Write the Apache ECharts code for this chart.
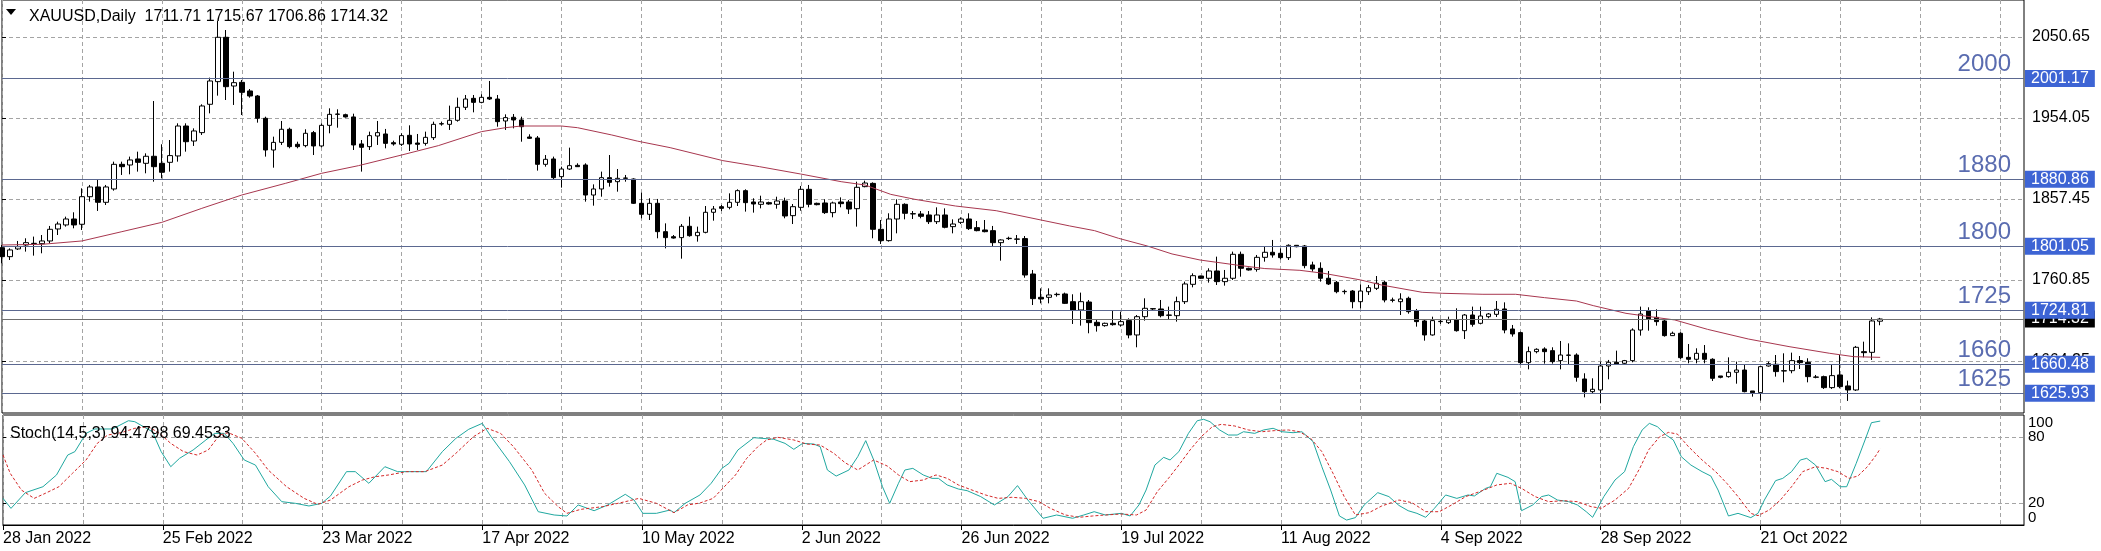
<!DOCTYPE html>
<html><head><meta charset="utf-8">
<script src="https://cdn.jsdelivr.net/npm/echarts@6/dist/echarts.min.js"></script>
<style>html,body{margin:0;padding:0;background:#fff}#c{width:2101px;height:551px}</style>
</head><body><div id="c"></div>
<script>
const symbol = 'XAUUSD', timeframe = 'Daily';
const dateLabels = ['28 Jan 2022','25 Feb 2022','23 Mar 2022','17 Apr 2022','10 May 2022','2 Jun 2022','26 Jun 2022','19 Jul 2022','11 Aug 2022','4 Sep 2022','28 Sep 2022','21 Oct 2022'];
const labelEvery = 20, gridEvery = 10, slotCount = 254;

const opens = [1799.4,1788.7,1797.9,1802.6,1804.2,1804.2,1807.4,1821.7,1826.5,1833.6,
1827.3,1860.2,1871.8,1853.5,1869.4,1898.8,1898.0,1905.2,1900.0,1908.4,
1900.0,1901.2,1908.8,1944.5,1926.6,1936.6,1970.4,1997.4,2050.3,1992.2,
1996.6,1986.3,1980.3,1953.7,1915.9,1925.0,1940.6,1922.7,1921.1,1936.6,
1920.7,1945.3,1958.4,1958.0,1955.3,1923.1,1919.9,1932.6,1935.0,1924.6,
1922.7,1933.4,1924.2,1923.8,1930.6,1946.9,1946.5,1951.3,1966.8,1977.5,
1972.7,1978.7,1976.7,1950.5,1954.9,1951.7,1931.4,1930.2,1898.8,1905.2,
1884.1,1893.2,1897.6,1898.0,1862.2,1869.4,1882.9,1878.1,1882.1,1881.3,
1852.3,1839.2,1852.3,1818.5,1812.5,1811.4,1824.9,1813.7,1817.7,1841.6,
1848.3,1847.5,1853.5,1867.4,1853.9,1851.1,1853.1,1851.1,1855.1,1837.6,
1847.5,1869.0,1852.3,1852.7,1841.2,1853.9,1853.9,1845.9,1872.2,1876.1,
1821.3,1807.8,1833.6,1851.1,1839.6,1839.6,1838.4,1830.4,1838.4,1824.5,
1829.6,1833.6,1823.3,1820.5,1819.7,1805.4,1810.2,1809.4,1810.2,1768.0,
1740.2,1740.2,1743.4,1744.2,1735.0,1725.1,1734.6,1710.4,1706.4,1709.2,
1707.2,1712.4,1695.3,1717.1,1726.3,1726.3,1718.7,1718.3,1735.0,1755.7,
1765.6,1762.9,1771.6,1758.9,1762.9,1791.5,1774.8,1773.6,1787.9,1793.9,
1792.7,1787.5,1802.2,1801.4,1778.8,1774.8,1762.9,1758.1,1746.9,1747.7,
1735.0,1746.9,1750.9,1758.1,1736.6,1735.0,1739.0,1723.9,1712.0,1695.3,
1711.2,1710.0,1713.2,1700.4,1719.1,1709.2,1717.1,1719.9,1726.3,1702.4,
1698.1,1662.3,1675.4,1678.6,1676.6,1664.7,1671.0,1671.4,1642.8,1627.7,
1629.7,1658.3,1662.7,1661.5,1664.7,1701.2,1723.9,1716.3,1712.0,1694.5,
1697.3,1668.6,1666.3,1673.4,1666.3,1646.4,1645.6,1650.8,1653.5,1628.5,
1626.5,1658.3,1660.3,1652.3,1652.7,1664.7,1662.7,1644.8,1645.6,1632.5,
1647.6,1634.5,1629.7,1675.4,1674.6,1711.71];
const closes = [1788.7,1796.7,1800.6,1805.4,1804.6,1807.4,1821.3,1827.6,1833.6,1826.5,
1860.2,1871.8,1853.5,1871.8,1898.8,1896.0,1904.0,1901.2,1908.4,1896.0,
1889.3,1909.2,1944.5,1925.8,1938.6,1968.4,1998.2,2050.3,1991.4,1996.2,
1984.7,1980.3,1953.7,1915.9,1925.0,1940.6,1919.9,1919.9,1935.8,1920.7,
1945.3,1958.4,1958.8,1955.3,1921.9,1919.1,1933.0,1936.6,1923.8,1923.1,
1933.0,1923.1,1922.7,1931.0,1946.5,1947.3,1951.3,1966.8,1976.7,1972.7,
1978.7,1976.7,1949.7,1954.5,1951.7,1943.7,1929.8,1898.8,1904.8,1882.9,
1893.2,1897.2,1896.0,1862.2,1869.4,1882.9,1877.3,1882.1,1882.5,1852.3,
1839.2,1852.3,1818.5,1811.4,1810.9,1824.9,1813.7,1817.7,1841.6,1845.5,
1846.3,1853.5,1867.4,1853.1,1851.5,1853.9,1851.5,1855.1,1837.2,1848.3,
1869.0,1851.1,1850.7,1841.2,1852.7,1851.9,1845.5,1871.4,1876.5,1821.3,
1807.8,1833.6,1851.1,1840.4,1840.0,1836.8,1830.4,1838.4,1823.7,1827.6,
1833.6,1822.1,1819.7,1818.5,1805.4,1808.6,1810.6,1809.8,1766.8,1738.6,
1738.2,1743.0,1743.8,1733.0,1725.1,1735.0,1710.0,1706.4,1709.2,1707.6,
1711.2,1695.3,1717.1,1727.1,1726.7,1718.3,1719.1,1735.0,1756.1,1766.0,
1762.9,1771.6,1758.9,1762.9,1791.5,1774.8,1772.8,1787.9,1793.9,1790.7,
1787.5,1802.2,1800.6,1778.0,1774.0,1762.9,1756.1,1746.9,1747.3,1735.0,
1747.7,1751.7,1756.9,1737.0,1737.0,1738.2,1723.1,1711.2,1695.3,1712.4,
1711.6,1713.2,1700.4,1719.1,1708.0,1717.9,1720.3,1725.9,1701.2,1696.5,
1662.3,1675.4,1678.2,1675.4,1663.5,1671.4,1671.4,1644.8,1627.7,1630.5,
1658.3,1662.7,1660.7,1664.7,1701.2,1720.3,1714.4,1711.2,1694.5,1697.3,
1668.2,1666.3,1673.4,1666.3,1643.6,1644.8,1650.8,1653.5,1627.7,1626.5,
1657.5,1661.1,1651.6,1652.7,1664.7,1662.3,1645.6,1645.2,1632.5,1646.8,
1633.7,1629.7,1680.6,1674.2,1712.0,1714.32];
const lows = [1780.8,1784.7,1796.7,1794.7,1789.9,1792.7,1804.6,1814.5,1824.5,1822.5,
1820.5,1854.3,1843.2,1850.3,1867.4,1886.1,1886.9,1890.1,1888.1,1878.1,
1882.1,1890.1,1902.0,1913.9,1920.7,1933.8,1959.6,1980.7,1975.5,1969.6,
1957.6,1978.3,1948.5,1908.0,1894.8,1921.9,1917.9,1917.9,1919.1,1909.9,
1919.1,1935.8,1942.5,1954.5,1915.9,1890.1,1915.9,1921.9,1917.9,1921.1,
1920.7,1914.7,1915.9,1921.1,1927.8,1944.9,1939.8,1949.7,1963.6,1960.8,
1971.6,1975.5,1943.7,1939.8,1941.7,1925.8,1929.0,1891.3,1896.0,1880.1,
1871.0,1892.1,1895.6,1854.3,1849.5,1860.2,1872.2,1866.2,1878.1,1851.5,
1834.4,1832.4,1810.6,1798.6,1810.2,1786.3,1812.5,1806.6,1816.5,1831.6,
1843.1,1845.1,1849.1,1842.4,1841.2,1846.3,1850.7,1845.9,1834.4,1827.6,
1843.5,1847.5,1849.9,1839.6,1835.6,1847.5,1839.6,1824.5,1871.4,1810.6,
1803.8,1806.6,1816.5,1833.2,1833.6,1834.4,1827.6,1827.6,1822.5,1816.5,
1827.6,1820.5,1818.9,1817.7,1801.4,1783.9,1808.6,1803.8,1763.6,1731.0,
1733.0,1733.0,1741.0,1732.2,1708.4,1706.4,1697.3,1699.3,1705.2,1706.4,
1705.2,1691.3,1680.6,1712.4,1725.1,1716.3,1714.0,1711.2,1732.2,1752.1,
1762.1,1757.7,1754.9,1754.1,1760.9,1764.8,1772.0,1770.8,1782.7,1787.5,
1785.5,1784.7,1799.8,1774.8,1770.8,1758.9,1754.9,1745.0,1743.8,1727.1,
1727.1,1743.0,1748.9,1734.2,1734.2,1719.1,1720.7,1705.2,1688.5,1694.5,
1708.4,1708.4,1699.3,1690.5,1705.2,1708.0,1715.2,1716.7,1697.3,1693.3,
1659.5,1654.3,1673.4,1661.1,1661.1,1654.3,1659.5,1639.6,1620.9,1625.7,
1613.8,1642.4,1659.5,1660.7,1662.7,1694.5,1700.4,1706.4,1693.3,1694.1,
1666.7,1661.5,1661.5,1661.5,1640.4,1643.6,1644.4,1637.2,1626.9,1621.7,
1617.0,1657.5,1645.6,1638.8,1649.6,1654.7,1638.8,1643.6,1630.9,1630.9,
1631.7,1616.6,1628.5,1668.6,1665.5,1706.86];
const highs = [1802.6,1798.6,1807.4,1810.6,1812.6,1814.5,1825.3,1830.4,1836.4,1841.6,
1870.2,1874.2,1881.3,1874.2,1902.0,1902.0,1908.0,1913.9,1911.9,1974.3,
1922.7,1927.8,1947.7,1947.7,1941.7,1970.4,2002.2,2069.7,2059.0,2009.3,
1999.4,1988.6,1981.5,1955.6,1931.8,1950.5,1942.5,1925.8,1940.6,1938.6,
1947.7,1965.6,1964.4,1959.2,1959.2,1927.8,1937.8,1950.5,1941.0,1927.0,
1935.8,1945.3,1935.0,1937.8,1949.7,1949.7,1968.8,1978.3,1981.5,1981.5,
1982.3,1998.2,1981.5,1958.4,1958.8,1955.6,1934.6,1932.6,1909.9,1908.0,
1896.0,1918.7,1900.0,1900.0,1874.9,1890.1,1909.9,1893.2,1886.1,1882.1,
1865.0,1858.3,1857.5,1828.4,1814.5,1827.6,1836.4,1824.5,1849.1,1849.1,
1850.3,1864.2,1869.0,1869.0,1858.3,1861.4,1854.3,1860.2,1859.0,1851.5,
1873.0,1874.2,1853.1,1857.1,1854.3,1859.4,1856.3,1878.1,1879.3,1877.3,
1832.4,1840.4,1857.1,1852.3,1843.1,1843.1,1843.1,1847.5,1846.3,1833.2,
1835.6,1840.4,1831.2,1832.4,1825.3,1809.4,1812.5,1814.5,1813.3,1772.8,
1750.9,1750.9,1745.8,1745.8,1743.8,1745.8,1737.0,1713.2,1710.0,1724.3,
1723.1,1715.2,1719.1,1739.0,1727.1,1737.0,1729.1,1741.0,1758.9,1768.8,
1766.0,1774.8,1788.7,1772.8,1794.7,1794.7,1775.6,1790.7,1800.6,1808.6,
1798.6,1803.4,1802.6,1802.6,1782.7,1781.9,1771.6,1759.7,1749.3,1748.9,
1755.7,1754.9,1765.6,1759.7,1739.8,1745.0,1741.0,1726.3,1713.2,1717.1,
1713.2,1717.1,1727.1,1720.3,1729.1,1729.1,1721.5,1735.8,1734.2,1707.2,
1699.3,1681.4,1679.4,1680.6,1680.6,1688.1,1685.3,1673.4,1649.6,1643.6,
1663.5,1665.5,1676.6,1665.5,1703.2,1729.1,1728.3,1725.9,1713.2,1699.3,
1698.5,1684.5,1679.4,1683.3,1667.5,1646.4,1668.6,1663.5,1660.3,1628.5,
1658.3,1663.5,1671.4,1673.4,1674.2,1670.2,1667.5,1647.6,1646.8,1659.5,
1671.4,1640.8,1682.2,1687.3,1716.3,1715.67];

const maIdx = [0,5,10,15,20,25,30,35.5,40,44.6,50,54.6,60,63,65,70,72,76.3,79.5,83.6,90.2,94.8,99.9,105,108,111.2,114.2,119.3,124.4,130,133.6,136.7,139.7,143.3,146.4,149.9,155,158,162.4,165.4,170,172.6,177.7,180.2,185.3,189.4,193,197,199.1,203.2,206.2,209.3,213.4,218.5,223.6,228.7,231.7,235];
const maVal = [1802.6,1803.4,1807.4,1818.5,1829.6,1846.3,1862.2,1876.2,1888.1,1897.2,1909.9,1921.1,1937.8,1942.5,1944.5,1944.5,1942.5,1933.8,1926.5,1918.7,1903.2,1896.0,1887.3,1878.1,1874.1,1863.0,1857.1,1849.1,1843.5,1832.4,1825.3,1819.7,1810.6,1801.4,1791.9,1784.7,1778.0,1774.5,1772.4,1768.8,1760.9,1754.9,1746.2,1745.0,1743.8,1743.8,1739.8,1735.8,1730.3,1721.1,1717.1,1713.2,1702.0,1690.5,1681.4,1673.4,1669.4,1668.6];

const kIdx = [0,1,2.8,5,6.7,8.1,9,10.4,11.5,13.7,15.7,16.5,18.7,19.8,21,22.1,23.8,25.4,26.5,27.7,28.8,30.2,31.6,33.2,34.9,36.6,38.3,39.9,41,43,44.1,45.8,47.8,49.4,53,55,56.7,58.3,60,61.1,63.4,65.3,67,69,70.6,72,74,75.7,77.9,79,80.1,81.8,83.5,84,85.4,87.25,88.65,90,90.9,92,94,96.5,97.9,99,100.1,101.5,102.3,103.2,104.3,105.9,107,108,109,110.1,111,112.1,112.9,113.9,115.2,116.3,117.1,118.2,119.6,120.7,122.4,124.1,125.8,127,128.3,130.2,131.9,133.9,135.3,136.6,138,140,141.1,142.2,143.1,144.2,145.3,146.1,147.2,148.4,149.5,150.3,151.1,152.3,153.4,154.5,155.3,156.7,157.8,159,160.1,161.5,162.6,164,165.1,166.2,167.3,168.2,169.3,170.4,172.1,173.5,174.75,175.9,177,178.1,179.2,180.6,182,183.4,184.2,185.6,186.2,187,188.4,189.3,190.1,191.5,192.6,193.5,194.6,196,197.1,198.2,199,200.4,201.8,203,204.1,205.2,206.1,207.1,208.2,209.1,210.1,211.3,212.7,213.8,214.7,216,217.2,218.8,219.7,220.5,221.9,222.8,223.9,225,225.8,226.9,228.1,228.9,230,230.8,232,233.1,233.9,235];
const kVal = [24.2,15.1,29.4,34.8,45.5,63.6,66.7,83.3,87.3,87.3,94.8,93.9,84.8,66.7,53,60.6,68.2,77.3,83.3,83.3,74.2,59.1,54.5,34.8,21.2,19.7,17.3,19.7,26.4,48.5,48.5,37.9,53,48.5,48.5,66.7,78.8,87,92.4,80.3,57.6,36.4,12.1,9.1,8.2,18.2,13,18.2,27.9,22.7,10.6,10.6,13.6,11.2,19.7,27.3,37.9,51.5,56.1,68.2,79.4,77.9,74.2,68.8,74.2,73.6,71.2,50,44.5,50,62.1,76.7,59.1,34.8,19.7,37.9,50,51.5,45.5,42.4,42.4,36.4,32.7,31.2,25.8,18.2,25.8,35.8,22.7,6.1,9.1,6.1,9.1,12.1,9.1,10.6,8.2,18.2,31.8,54.5,61.5,59.1,66.7,83.3,94.8,96.1,93.9,86.4,81.8,81.8,84.8,83.3,86.4,87.9,84.8,83.9,84.8,75.8,53,31.8,8.2,4.5,6.7,18.2,29.4,25.8,17.8,13,10.6,7,15.2,27.3,24.2,27.3,26.4,33.3,34.8,47,43.3,39.4,13,18.2,25.8,27.3,22.7,21.2,18.2,12.1,7,25.8,40.9,48.5,71.2,86.4,92.4,89.4,81.8,77.3,62.1,54.5,48.5,44.5,31.8,8.2,10.6,6.7,10.6,22.7,40.3,42.4,48.5,59.1,60.6,54.5,39.4,41.5,34.8,34.8,56.1,77.3,93,94.48];
const dIdx = [0,0.9,2.3,3.9,5.3,7,8.7,10.4,11.8,13.1,14.8,16.5,18.2,19.6,21,22.6,24.3,25.7,27.1,28.2,29.9,31.6,33.2,35.5,37.7,39.4,41,43.3,45,46.6,48.3,50.5,52.8,55,56.7,58.9,60.6,62.3,63.9,66.2,67.8,69.5,70.6,72.3,75.1,77.9,79.6,81.8,84,85.7,87.25,88.9,90.3,91.7,93.1,94.5,95.6,97,99,100.6,102.3,104,105.4,107,109,110.7,112.1,113.5,115.2,116.8,118.2,119.6,121.3,123,124.6,126.3,128,129.7,131.1,133,134.7,136.4,138,140,141.9,143.1,144.5,145.9,147.2,148.6,150,151.4,152.5,154.2,155.9,157.6,159.2,160.9,162.3,163.7,165.1,166.5,167.9,169.3,171,172.6,174.75,176.4,178.1,179.8,181.5,183.1,185.4,187,188.7,190.1,191.8,193.5,195.4,197.1,198.8,200.1,201.8,203.5,204.9,206,207.4,208.5,209.6,211,212.7,214.4,215.8,217.2,218.8,219.7,221.1,222.5,223.9,225.3,226.9,228.3,229.7,231.1,232.2,233.4,234.5,235];
const dVal = [63.6,47,31.8,24.2,28.8,34.8,47,59.1,74.2,81.8,83.9,87.9,89.4,83.3,74.2,66.7,63.6,68.2,81.8,83.9,78.8,65.2,50,34.8,24.2,18.8,22.7,34.8,40.9,43.9,45.5,48.5,48.5,54.5,65.2,80.3,87.9,83.3,71.2,50,28.8,16.7,10.6,14.2,16.7,21.2,24.2,19.7,11.2,18.2,20,24.2,34.8,45.5,60.6,71.2,77.3,79.7,77.3,73.6,72.7,65.2,56.7,50,59.1,53.6,45.5,39.4,40.9,45.5,42.4,36.4,31.8,27.3,24.2,25.2,24.2,21.2,15.2,9.1,7,8.2,9.1,10,9.1,13.6,30.3,42.4,54.5,68.2,80.3,89.4,91.5,90,86.4,84.8,85.8,86.4,84.8,78.8,66.7,47,25.8,9.1,11.2,17.3,22.7,20.3,12.1,12.1,18.8,25.8,31.8,36.4,37.9,33.3,25.8,21.2,22.1,21.2,16.7,15.2,22.7,33.3,51.5,68.2,80.3,84.2,82.7,71.2,59.1,48.5,37.9,25.8,10.6,8.5,13.6,22.7,34.8,48.5,53,51.5,48.5,42.4,44.5,53,63.6,69.45];

const stochName = 'Stoch(14,5,3)', stochKText = '94.4798', stochDText = '69.4533';
const priceMin = 1602.23, priceMax = 2094.78;
const priceTicks = [1664.25, 1760.85, 1857.45, 1954.05, 2050.65];
const stochLabels = [0, 20, 80, 100];
const stochGrid = [20, 80];
const levelValues = [2001.17, 1880.86, 1801.05, 1724.81, 1660.48, 1625.93];
const levelNames = ['2000', '1880', '1800', '1725', '1660', '1625'];

const FONT = 'Liberation Sans';
const slots = Array.from({length: slotCount}, (_, i) => String(i));
const last = opens.length - 1;
const headerText = symbol + ',' + timeframe + '  ' + [opens[last], highs[last], lows[last], closes[last]].map(v => v.toFixed(2)).join(' ');
const candleData = opens.map((o, i) => [o, closes[i], lows[i], highs[i]]);
const maData = maIdx.map((x, j) => [x, maVal[j]]);
const gridDash = {color: '#a4a4a4', type: [4, 3], width: 1};
const labelIdx = i => i % labelEvery === 0 && i / labelEvery < dateLabels.length;
const stochEnds = stochLabels.filter(v => stochGrid.indexOf(v) < 0);

const chart = echarts.init(document.getElementById('c'), null, {renderer: 'canvas'});
chart.setOption({
  animation: false,
  backgroundColor: '#fff',
  textStyle: {fontFamily: FONT},
  title: [
    {text: headerText, left: 24, top: 4, textStyle: {fontFamily: FONT, fontSize: 16, fontWeight: 'normal', color: '#000'}},
    {text: stochName + ' ' + stochKText + ' ' + stochDText, left: 5, top: 421, textStyle: {fontFamily: FONT, fontSize: 16, fontWeight: 'normal', color: '#000'}}
  ],
  graphic: [{type: 'polygon', shape: {points: [[6, 9], [16, 9], [11, 15]]}, style: {fill: '#000'}}],
  grid: [
    {left: 2, top: 0, width: 2022, height: 413, show: true, borderColor: '#000', borderWidth: 1, backgroundColor: 'transparent'},
    {left: 2, top: 415, width: 2022, height: 110, show: true, borderColor: '#000', borderWidth: 1, backgroundColor: 'transparent'}
  ],
  xAxis: [
    {type: 'category', gridIndex: 0, data: slots, boundaryGap: false,
     axisLine: {show: false}, axisTick: {show: false}, axisLabel: {show: false},
     splitLine: {show: true, interval: i => i % gridEvery === 0, lineStyle: gridDash}},
    {type: 'category', gridIndex: 1, data: slots, boundaryGap: false,
     axisLine: {show: true, lineStyle: {color: '#000'}},
     axisTick: {show: true, interval: labelIdx, length: 5, lineStyle: {color: '#000'}},
     axisLabel: {show: true, interval: labelIdx, align: 'left', margin: 6, fontSize: 16, color: '#000', fontFamily: FONT,
       formatter: v => { const i = +v; return labelIdx(i) ? dateLabels[i / labelEvery] : ''; }},
     splitLine: {show: true, interval: i => i % gridEvery === 0, lineStyle: gridDash}},
    {type: 'value', gridIndex: 0, min: 0, max: slotCount - 1, show: false},
    {type: 'value', gridIndex: 1, min: 0, max: slotCount - 1, show: false}
  ],
  yAxis: [
    {type: 'value', gridIndex: 0, position: 'right', min: priceMin, max: priceMax, scale: true,
     axisLine: {show: false},
     axisTick: {show: true, customValues: priceTicks, length: 4, lineStyle: {color: '#000'}},
     axisLabel: {show: true, customValues: priceTicks, formatter: v => v.toFixed(2), fontSize: 16, color: '#000', margin: 8, fontFamily: FONT},
     splitLine: {show: true, lineStyle: gridDash}},
    {type: 'value', gridIndex: 1, position: 'right', min: 0, max: 100,
     axisLine: {show: false},
     axisTick: {show: true, customValues: stochGrid, length: 3, lineStyle: {color: '#000'}},
     axisLabel: {show: true, customValues: stochGrid, fontSize: 15, color: '#000', margin: 4, fontFamily: FONT},
     splitLine: {show: true, lineStyle: gridDash}},
    {type: 'value', gridIndex: 1, position: 'right', min: 0, max: 100,
     axisLine: {show: false}, axisTick: {show: false}, splitLine: {show: false},
     axisLabel: {show: true, customValues: stochEnds, showMinLabel: true, showMaxLabel: true,
       fontSize: 15, color: '#000', margin: 4, fontFamily: FONT,
       verticalAlignMinLabel: 'bottom', verticalAlignMaxLabel: 'top'}}
  ],
  series: [
    {type: 'candlestick', xAxisIndex: 0, yAxisIndex: 0, data: candleData, barWidth: 5,
     itemStyle: {color: '#fff', color0: '#000', borderColor: '#000', borderColor0: '#000', borderWidth: 1}},
    {type: 'line', xAxisIndex: 2, yAxisIndex: 0, data: maData,
     symbol: 'none', clip: false, lineStyle: {color: '#a8374f', width: 1}, z: 3,
     markLine: {silent: true, animation: false, symbol: ['none', 'none'],
       lineStyle: {color: '#5b6890', width: 1, type: 'solid'},
       label: {show: true, position: 'end', distance: 1, color: '#fff', backgroundColor: '#3d64d4',
         fontSize: 16, fontFamily: FONT, padding: [1, 6, 0, 6], lineHeight: 16,
         formatter: p => (+p.value).toFixed(2)},
       data: [{yAxis: closes[last], lineStyle: {color: '#6e6e6e'}, label: {backgroundColor: '#000'}}]
         .concat(levelValues.map(v => ({yAxis: v})))}},
    {type: 'line', xAxisIndex: 2, yAxisIndex: 0, data: maData,
     symbol: 'none', clip: false, lineStyle: {color: 'rgba(0,0,0,0)', width: 0}, z: 4, silent: true,
     markLine: {silent: true, animation: false, symbol: ['none', 'none'],
       lineStyle: {color: 'rgba(0,0,0,0)', width: 1, type: 'solid'},
       label: {show: true, position: 'insideEndTop', distance: [13, 2], fontSize: 24, color: '#5a6cb0', fontFamily: FONT,
         formatter: p => p.name},
       data: levelValues.map((v, j) => ({yAxis: v, name: levelNames[j]}))}},
    {type: 'line', xAxisIndex: 3, yAxisIndex: 1, data: kIdx.map((x, j) => [x, kVal[j]]),
     symbol: 'none', lineStyle: {color: '#20a8a0', width: 1}},
    {type: 'line', xAxisIndex: 3, yAxisIndex: 1, data: dIdx.map((x, j) => [x, dVal[j]]),
     symbol: 'none', lineStyle: {color: '#d42828', width: 1, type: [3, 2]}}
  ]
});
</script>
</body></html>
